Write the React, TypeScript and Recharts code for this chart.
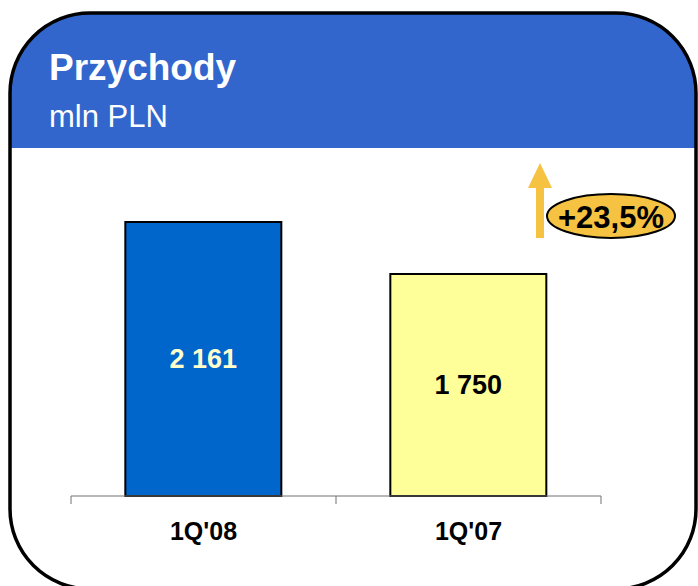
import React from "react"
import { BarChart, Bar, XAxis, YAxis, Cell, LabelList } from "recharts"

// ─── Data ─────────────────────────────────────────────────────────────────────
const periods = ["1Q'08", "1Q'07"]
const revenue = [2161, 1750]
const barColors = ["#0066CC", "#FFFF99"]
const labelColors = ["#FFFFCC", "#000000"]

const data = periods.map((p, i) => ({ period: p, value: revenue[i] }))

const growth = ((revenue[0] / revenue[1] - 1) * 100).toFixed(1).replace(".", ",")
const fmt = (v: number) => v.toLocaleString("en-US").replace(/,/g, " ")

const FONT = "'Liberation Sans', Arial, sans-serif"
const W = 698
const H = 586

// ─── Category tick with boundary marks ───────────────────────────────────────
function CatTick({ x, y, payload, index, width, visibleTicksCount }: any) {
  const n = visibleTicksCount || periods.length
  const band = (width || 530) / n
  return (
    <g>
      <line x1={x - band / 2} y1={y} x2={x - band / 2} y2={y + 8} stroke="#707070" />
      {index === n - 1 && (
        <line x1={x + band / 2} y1={y} x2={x + band / 2} y2={y + 8} stroke="#707070" />
      )}
      <text
        x={x}
        y={y + 35}
        textAnchor="middle"
        dominantBaseline="central"
        fontFamily={FONT}
        fontWeight="bold"
        fontSize={25}
        fill="#000"
      >
        {payload.value}
      </text>
    </g>
  )
}

function ValueLabel({ x, y, width, height, value, index }: any) {
  return (
    <text
      x={x + width / 2}
      y={y + height / 2}
      textAnchor="middle"
      dominantBaseline="central"
      fontFamily={FONT}
      fontWeight="bold"
      fontSize={27}
      fill={labelColors[index]}
    >
      {fmt(value)}
    </text>
  )
}

export default function App() {
  return (
    <div style={{ position: "absolute", left: 0, top: 0, width: W, height: H, background: "#fff", fontFamily: FONT }}>
      <svg width={W} height={H} style={{ position: "absolute", left: 0, top: 0 }}>
        <defs>
          <clipPath id="frame">
            <rect x={10} y={13} width={686} height={576} rx={80} ry={80} />
          </clipPath>
        </defs>
        <rect x={10} y={13} width={686} height={576} rx={80} ry={80} fill="#fff" />
        <rect x={0} y={0} width={W} height={148} fill="#3366CC" clipPath="url(#frame)" />
        <rect x={10} y={13} width={686} height={576} rx={80} ry={80} fill="none" stroke="#000" strokeWidth={3.5} />
        <text x={49} y={80} fill="#fff" fontFamily={FONT} fontWeight="bold" fontSize={37}>Przychody</text>
        <text x={49} y={127} fill="#fff" fontFamily={FONT} fontSize={31}>mln PLN</text>

        {/* growth arrow */}
        <rect x={536} y={185} width={8} height={53} fill="#F5C242" />
        <polygon points="528,188 540,163 552,188" fill="#F5C242" />
        <ellipse cx={611} cy={216} rx={64} ry={22} fill="#F5C242" stroke="#000" strokeWidth={2} />
        <text x={611} y={217} textAnchor="middle" dominantBaseline="central" fontFamily={FONT} fontWeight="bold" fontSize={31} fill="#000">
          +{growth}%
        </text>
      </svg>

      <div style={{ position: "absolute", left: 0, top: 0 }}>
        <BarChart
          width={W}
          height={H}
          data={data}
          margin={{ top: 179, right: 97, bottom: 30, left: 71 }}
          barCategoryGap="20.5%"
        >
          <XAxis
            dataKey="period"
            height={60}
            axisLine={{ stroke: "#707070", strokeWidth: 1 }}
            tickLine={false}
            tickSize={0}
            tickMargin={0}
            tick={<CatTick />}
            interval={0}
          />
          <YAxis hide domain={[0, 2500]} />
          <Bar dataKey="value" isAnimationActive={false} stroke="#000" strokeWidth={2}>
            {data.map((_, i) => (
              <Cell key={i} fill={barColors[i]} />
            ))}
            <LabelList dataKey="value" content={<ValueLabel />} />
          </Bar>
        </BarChart>
      </div>
    </div>
  )
}
